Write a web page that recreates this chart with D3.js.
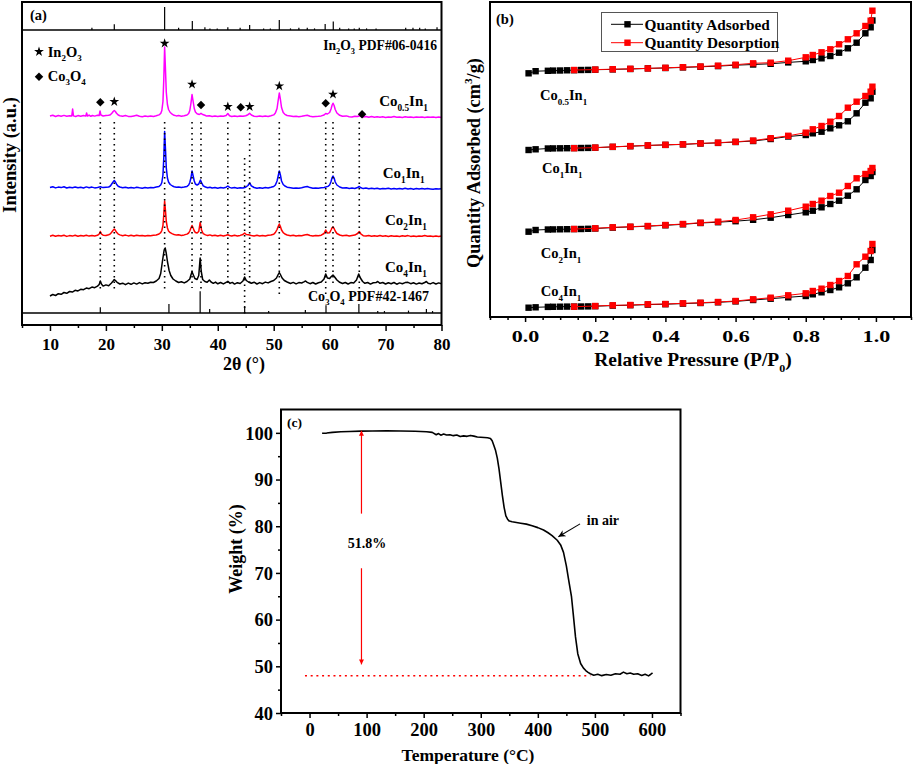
<!DOCTYPE html>
<html><head><meta charset="utf-8">
<script src="https://cdn.jsdelivr.net/npm/d3@7"></script>
<style>
body{margin:0;background:#fff}
svg{display:block}
text{font-family:'Liberation Serif','Times New Roman',serif;font-weight:bold;fill:#000}
</style>
</head><body>
<svg id="c" width="915" height="764"></svg>
<script>
// ---------------- DATA : panel (a) XRD ----------------
const xrdNames = ["Co_{0.5}In_{1}", "Co_{1}In_{1}", "Co_{2}In_{1}", "Co_{4}In_{1}"];
const xrdColors = ["#ff00ff", "#0000ff", "#ff0000", "#000000"];
const xrdOffsets = [195.5, 124, 76.5, 29.5];
const xrdCo05In1 = [[10,1.5],[10.5,2.2],[11,1.0],[11.5,2.0],[12,1.3],[12.5,2.1],[13,1.2],[13.5,1.8],[13.9,1.5],[14.05,8.5],[14.2,1.6],[14.6,1.0],[15,1.9],[15.5,1.2],[16,2.0],[16.4,1.4],[16.55,4.5],[16.7,1.5],[17,2.4],[17.3,1.2],[17.6,2.0],[18,1.4],[18.5,2.2],[18.8,2.0],[18.95,6.5],[19.1,2.5],[19.5,1.5],[20,2.0],[20.5,2.2],[20.8,2.8],[21.1,4.5],[21.3,6.0],[21.5,7.0],[21.7,6.0],[21.9,4.2],[22.2,2.5],[22.5,1.8],[23,1.3],[23.5,2.0],[24,1.1],[24.5,0.9],[25,1.6],[25.5,2.3],[26,1.2],[26.5,0.8],[27,1.4],[27.5,1.0],[28,1.6],[28.5,1.1],[29,1.8],[29.5,2.6],[29.8,4],[30.0,7],[30.2,16],[30.35,38],[30.5,70.5],[30.65,48],[30.8,25],[31.0,13],[31.2,8],[31.5,5],[31.9,3.2],[32.2,2.2],[32.6,1.6],[33,2.0],[33.5,1.3],[34,1.8],[34.5,2.5],[34.8,4],[35.0,7],[35.2,14],[35.4,23],[35.6,16],[35.8,9],[36.0,5.5],[36.3,3.8],[36.7,3.0],[37.0,4.2],[37.3,3.0],[37.7,2.2],[38,1.4],[38.5,1.8],[39,1.1],[39.5,1.6],[40,1.0],[40.5,1.4],[41,1.2],[41.5,2.0],[41.8,4.0],[42.1,1.8],[42.5,1.0],[43,1.5],[43.5,1.0],[44,1.6],[44.5,1.2],[45,1.8],[45.4,2.8],[45.7,4.2],[46,2.5],[46.5,1.3],[47,1.0],[47.5,1.5],[48,0.9],[48.5,1.4],[49,1.1],[49.5,1.8],[50,2.6],[50.3,4.5],[50.6,9],[50.8,17],[51.0,24.5],[51.2,18],[51.4,10],[51.7,5],[52.0,3.2],[52.4,2.0],[53,1.4],[53.5,0.9],[54,1.3],[54.5,0.8],[55,1.2],[55.5,1.8],[56,2.3],[56.5,1.2],[57,0.8],[57.5,1.0],[58,1.2],[58.5,1.6],[59,2.5],[59.3,4.0],[59.6,3.5],[60,5],[60.25,8.5],[60.45,12.5],[60.6,14.3],[60.8,12],[61.0,8],[61.3,4.5],[61.8,2.2],[62.3,1.2],[63,1.6],[63.5,0.8],[64,0.5],[64.5,1.2],[65,1.0],[65.3,1.8],[65.7,0.7],[66,0.4],[66.5,1.0],[67,0.3],[67.5,0.9],[68,0.2],[68.5,0.8],[69,0.3],[69.5,0.7],[70,0.1],[70.5,0.6],[71,0.3],[71.5,0.9],[72,0.2],[72.5,0.6],[73,0.1],[73.5,0.7],[74,0.2],[74.5,0.5],[75,0.0],[75.5,0.6],[76,0.2],[76.5,0.5],[77,-0.1],[77.5,0.4],[78,0.2],[78.5,0.5],[79,-0.1],[79.5,0.4],[80,0.1]];
const xrdCo1In1 = [[10,1.5],[10.5,2.3],[11,1.1],[11.5,1.9],[12,1.4],[12.5,2.2],[13,1.0],[13.5,1.8],[14,1.3],[14.5,2.0],[15,1.2],[15.5,1.7],[16,1.0],[16.5,2.1],[17,1.3],[17.5,1.9],[18,1.1],[18.5,1.6],[19,2.2],[19.5,1.4],[20,1.8],[20.5,2.0],[20.8,3.0],[21.1,5.5],[21.3,7.2],[21.5,8.5],[21.7,7.0],[21.9,4.8],[22.2,2.8],[22.5,2.0],[23,1.2],[23.5,1.8],[24,1.0],[24.5,1.5],[25,0.9],[25.5,1.7],[26,1.2],[26.5,0.8],[27,1.5],[27.5,1.0],[28,1.4],[28.5,1.2],[29,1.9],[29.5,2.6],[29.8,4],[30.0,6.5],[30.2,14],[30.35,31],[30.5,57.5],[30.65,40],[30.8,21],[31.0,11],[31.2,7],[31.5,4.5],[31.9,3],[32.2,2.3],[32.6,1.7],[33,2.0],[33.5,1.4],[34,1.9],[34.5,2.6],[34.8,4],[35.0,6.5],[35.2,11],[35.4,18],[35.6,13],[35.8,8],[36.0,5],[36.3,4],[36.6,5],[36.9,9],[37.1,6.5],[37.4,3.2],[37.8,2.0],[38.2,1.2],[38.6,1.8],[39,1.0],[39.5,1.5],[40,0.8],[40.5,1.4],[41,1.0],[41.5,1.8],[41.8,3.0],[42.1,1.6],[42.5,0.9],[43,1.4],[43.5,0.8],[44,1.3],[44.5,1.0],[45,1.8],[45.4,3.5],[45.7,6.0],[46,3.2],[46.5,1.5],[47,0.8],[47.5,1.3],[48,0.7],[48.5,1.4],[49,1.0],[49.5,1.7],[50,2.5],[50.3,4],[50.6,8],[50.8,13],[51.0,18],[51.2,14],[51.4,8],[51.7,4.5],[52.0,3],[52.4,1.8],[53,1.2],[53.5,0.7],[54,1.1],[54.5,0.8],[55,1.3],[55.5,2.0],[56,2.5],[56.5,1.4],[57,0.7],[57.5,1.1],[58,0.8],[58.5,1.3],[59,1.6],[59.3,2.0],[59.7,2.6],[60,4],[60.25,7.5],[60.45,11.5],[60.6,13],[60.8,11],[61.0,7],[61.3,4],[61.8,2.0],[62.3,1.0],[63,1.3],[63.5,0.6],[64,0.9],[64.5,0.5],[65,1.5],[65.3,2.5],[65.6,1.2],[66,0.4],[66.5,0.9],[67,0.3],[67.5,0.8],[68,0.2],[68.5,0.7],[69,0.1],[69.5,0.6],[70,0.2],[70.5,0.8],[71,0.1],[71.5,0.5],[72,-0.1],[72.5,0.6],[73,0.0],[73.5,0.7],[74,0.1],[74.5,0.4],[75,-0.2],[75.5,0.5],[76,0.0],[76.5,0.6],[77,-0.1],[77.5,0.4],[78,0.1],[78.5,-0.2],[79,0.3],[79.5,-0.1],[80,0.2]];
const xrdCo2In1 = [[10,0.3],[10.5,1.2],[11,0.2],[11.5,1.0],[12,0.5],[12.5,1.3],[13,0.1],[13.5,0.9],[14,0.4],[14.5,1.2],[15,0.3],[15.5,1.0],[16,0.5],[16.5,1.3],[17,0.4],[17.5,1.1],[18,0.6],[18.5,1.2],[18.8,2.5],[19.0,5.0],[19.2,2.5],[19.5,1.3],[20,1.0],[20.5,1.8],[20.8,2.6],[21.1,4.8],[21.3,6.3],[21.5,7.5],[21.7,6.2],[21.9,4.2],[22.2,2.4],[22.5,1.6],[23,0.8],[23.5,1.4],[24,0.6],[24.5,1.2],[25,0.5],[25.5,1.3],[26,0.7],[26.5,1.1],[27,0.4],[27.5,1.0],[28,0.8],[28.5,1.3],[29,1.5],[29.5,2.5],[29.8,3.8],[30.0,6],[30.2,11],[30.35,22],[30.5,35.5],[30.65,26],[30.8,15],[31.0,8.5],[31.2,5.5],[31.5,3.8],[31.9,2.6],[32.2,2.0],[32.6,1.4],[33,1.8],[33.5,1.1],[34,1.6],[34.5,2.4],[34.8,3.5],[35.0,5.5],[35.2,8.5],[35.4,11],[35.6,8.5],[35.8,5.5],[36.0,4],[36.3,3.5],[36.6,5],[36.85,14],[37.1,6.5],[37.4,2.8],[37.8,1.6],[38.2,1.0],[38.6,1.6],[39,0.7],[39.5,1.3],[40,0.5],[40.5,1.2],[41,0.6],[41.5,1.3],[41.8,1.8],[42.1,1.0],[42.5,0.5],[43,1.2],[43.5,0.6],[44,1.1],[44.5,2.0],[44.8,3.5],[45.1,2.0],[45.5,1.8],[46,1.1],[46.5,0.6],[47,1.2],[47.5,0.5],[48,1.0],[48.5,0.6],[49,1.3],[49.5,1.5],[50,2.2],[50.3,4],[50.6,7],[50.8,10],[51.0,12.5],[51.2,10],[51.4,6.5],[51.7,3.8],[52.0,2.5],[52.4,1.5],[53,0.8],[53.5,1.3],[54,0.6],[54.5,1.0],[55,0.8],[55.5,1.5],[56,2.0],[56.5,1.0],[57,0.5],[57.5,1.1],[58,0.7],[58.5,1.3],[59,3.0],[59.3,6.5],[59.6,3.5],[60,3.8],[60.25,6.5],[60.45,8.8],[60.6,9.5],[60.8,8],[61.0,5.5],[61.3,3],[61.8,1.5],[62.3,0.8],[63,1.2],[63.5,0.5],[64,1.0],[64.5,1.4],[65,3.0],[65.3,5.0],[65.6,2.5],[66,0.8],[66.5,0.4],[67,1.0],[67.5,0.3],[68,0.8],[68.5,0.2],[69,0.9],[69.5,0.3],[70,0.7],[70.5,0.1],[71,0.8],[71.5,0.2],[72,0.6],[72.5,0.0],[73,0.7],[73.5,0.2],[74,0.9],[74.5,0.1],[75,0.6],[75.5,0.0],[76,0.5],[76.5,0.2],[77,1.0],[77.5,0.3],[78,0.5],[78.5,0.0],[79,0.6],[79.5,0.1],[80,0.4]];
const xrdCo4In1 = [[10,-12.5],[10.5,-11.0],[11,-12.0],[11.5,-10.2],[12,-10.8],[12.5,-9.0],[13,-9.8],[13.5,-8.0],[14,-8.6],[14.5,-6.8],[15,-7.4],[15.5,-5.8],[16,-6.2],[16.5,-4.6],[17,-5.2],[17.5,-3.6],[18,-4.2],[18.5,-2.6],[18.8,-1.0],[19.0,2.5],[19.2,-0.5],[19.5,-2.6],[20,-1.4],[20.5,-2.2],[21,0.5],[21.3,2.5],[21.5,4.0],[21.7,3.0],[22,1.2],[22.5,-0.5],[23,0.3],[23.5,-1.2],[24,0.4],[24.5,-0.8],[25,0.6],[25.5,-0.6],[26,0.9],[26.5,-0.4],[27,0.8],[27.5,0.2],[28,1.3],[28.5,1.0],[29,2.5],[29.5,5],[29.8,10],[30.1,22],[30.4,33],[30.6,35.5],[30.8,30],[31.0,22],[31.3,13],[31.6,8],[32,4.5],[32.5,2.5],[33,1.0],[33.5,1.8],[34,0.6],[34.5,2.0],[35,4.5],[35.2,8.5],[35.4,11.8],[35.6,9],[35.9,5],[36.3,4],[36.6,8],[36.85,25.5],[37.05,12],[37.3,4],[37.7,2.0],[38.1,1.2],[38.5,3.5],[38.8,1.5],[39.2,0.2],[39.6,1.4],[40,-0.3],[40.5,1.0],[41,-0.4],[41.5,1.2],[41.8,2.2],[42.2,0.1],[42.6,1.1],[43,-0.6],[43.5,0.8],[44,0.0],[44.5,2.5],[44.8,6.5],[45.1,3.0],[45.5,1.5],[46,0.2],[46.5,1.3],[47,-0.5],[47.5,0.9],[48,-0.2],[48.5,1.4],[49,0.6],[49.5,2.0],[50,3.0],[50.5,5.5],[50.8,9],[51,11],[51.2,9],[51.5,5.5],[51.9,3],[52.4,1.5],[53,0.0],[53.5,1.1],[54,-0.4],[54.5,0.9],[55,0.5],[55.4,1.6],[55.7,2.5],[56,1.2],[56.5,-0.2],[57,1.0],[57.5,-0.5],[58,0.8],[58.5,1.5],[59,4.5],[59.3,9.5],[59.6,5.5],[60,5],[60.3,7],[60.6,8.5],[60.9,6.5],[61.3,3.5],[61.8,1.2],[62.3,0.0],[62.8,1.0],[63.3,-0.5],[63.8,0.9],[64.3,0.5],[64.8,3.5],[65.2,9.5],[65.5,5.5],[65.9,2.0],[66.3,0.2],[66.8,1.0],[67.3,-0.6],[67.8,0.7],[68.3,0.9],[68.6,2.0],[69,0.2],[69.5,1.0],[70,-0.5],[70.5,0.8],[71,-0.2],[71.5,1.0],[72,-0.7],[72.5,0.6],[73,-0.3],[73.5,0.9],[74,1.2],[74.5,-0.2],[75,0.7],[75.5,-0.6],[76,0.5],[76.5,-0.3],[77,1.0],[77.3,2.0],[77.6,0.3],[78,-0.4],[78.5,0.9],[79,-0.5],[79.5,0.6],[80,-0.2]];
const xrdSeries = [xrdCo05In1, xrdCo1In1, xrdCo2In1, xrdCo4In1];
// reference sticks [2theta, relative intensity]
const in2o3Ref = [[17.5,10],[21.5,25],[30.5,100],[33.0,10],[35.45,39],[37.7,12],[38.6,7],[39.9,7],[41.8,12],[44.0,10],[45.7,22],[48.2,7],[49.4,7],[51.0,44],[53.0,7],[54.5,10],[56.0,10],[57.3,7],[59.2,26],[60.65,37],[61.8,10],[63.4,7],[64.4,7],[65.3,10],[66.6,7],[68.3,7],[73.6,10],[74.9,10],[76.1,10],[77.1,7],[79.2,12]];
const co3o4Ref = [[19.0,27],[31.27,41],[36.85,100],[38.55,18],[44.81,32],[49.1,9],[55.66,14],[59.35,36],[65.23,41],[68.6,9],[69.8,9],[74.1,11],[77.3,18],[78.4,9]];
// dotted guide lines [2theta, top a.u., bottom a.u.]
const guideLines = [[19.0,191,23],[21.5,191,23],[30.5,191,23],[35.4,191,25],[37.0,191,23],[41.8,191,30],[44.8,155,-4],[45.7,191,30],[51.0,191,18],[59.3,191,15],[60.6,191,30],[65.3,191,15]];
const starMarks = [[21.5,211.3],[30.5,269.7],[35.4,228.7],[41.8,206.3],[45.7,206.3],[51.0,227],[60.6,218.7]];
const diamondMarks = [[19.0,210.7],[37.0,208],[44.1,205.7],[59.3,209.7],[65.8,198.7]];
const xrdMajorTicks = [10,20,30,40,50,60,70,80];
const xrdMinorTicks = [5,15,25,35,45,55,65,75];

// ---------------- DATA : panel (b) isotherms ----------------
const betNames = ["Co_{0.5}In_{1}", "Co_{1}In_{1}", "Co_{2}In_{1}", "Co_{4}In_{1}"];
const betLegend = ["Quantity Adsorbed", "Quantity Desorption"];
const pAds = [0.01,0.03,0.065,0.08,0.10,0.12,0.14,0.16,0.18,0.20,0.25,0.30,0.35,0.40,0.45,0.50,0.55,0.60,0.65,0.70,0.75,0.80,0.82,0.845,0.87,0.895,0.92,0.945,0.97,0.985,0.99];
const pDes = [0.99,0.985,0.97,0.945,0.92,0.895,0.87,0.845,0.82,0.80,0.75,0.70,0.65,0.60,0.55,0.50,0.45,0.40,0.35,0.30,0.25,0.20,0.14];
const adsCo05In1 = [243.7,245.8,246.2,246.4,246.5,246.7,246.8,247.0,247.1,247.3,247.6,248.0,248.6,249.0,249.6,250.2,250.9,251.8,252.5,253.2,254.6,255.7,257.0,258.7,261.0,264.3,268.7,274.3,283.7,289.7,296.5];
const desCo05In1 = [306.3,296.3,291.0,283.7,277.7,272.7,267.7,264.7,262.0,259.7,256.3,254.3,253.7,252.3,251.3,250.5,249.8,249.2,248.6,248.2,247.8,247.4,247.0];
const adsCo1In1 = [167.0,167.7,168.5,168.6,168.7,168.8,168.9,169.0,169.1,169.3,170.1,170.8,171.5,172.1,172.6,173.5,174.1,175.0,176.0,178.0,180.5,182.0,183.7,185.3,188.7,191.7,195.7,203.7,214.3,218.7,225.3];
const desCo1In1 = [230.3,225.3,221.0,215.3,209.3,201.0,195.3,191.0,187.7,184.3,181.2,178.8,176.4,175.2,174.3,173.6,172.7,172.2,171.6,170.9,170.2,169.4,168.8];
const adsCo2In1 = [85.3,87.0,87.5,87.6,87.7,87.8,87.9,88.0,88.2,88.5,89.4,90.1,90.8,91.7,92.7,94.0,94.8,95.8,97.2,99.3,102.0,104.7,106.3,109.7,113.0,116.3,121.3,127.7,137.0,141.0,145.0];
const desCo2In1 = [149.0,146.0,143.0,138.7,131.0,124.3,121.0,116.3,113.0,110.3,106.3,102.7,99.7,97.0,95.3,94.3,93.0,92.0,91.0,90.3,89.7,88.7,88.0];
const adsCo4In1 = [9.3,9.7,10.1,10.2,10.3,10.4,10.4,10.5,10.6,10.8,11.4,11.8,12.4,12.8,13.4,14.0,14.7,15.6,17.0,18.3,19.7,21.0,22.7,24.7,27.0,29.7,33.7,39.7,49.3,57.0,67.0];
const desCo4In1 = [73.0,66.0,60.3,52.7,41.0,36.0,32.0,28.3,26.0,23.7,21.7,19.3,17.7,16.0,15.0,14.3,13.7,13.0,12.7,12.0,11.7,11.0,10.3];
const adsSeries = [adsCo05In1, adsCo1In1, adsCo2In1, adsCo4In1];
const desSeries = [desCo05In1, desCo1In1, desCo2In1, desCo4In1];
const betMajorTicks = [0,0.2,0.4,0.6,0.8,1.0];
const betMinorTicks = [-0.1,-0.05,0.05,0.1,0.15,0.25,0.3,0.35,0.45,0.5,0.55,0.65,0.7,0.75,0.85,0.9,0.95,1.05,1.1];

// ---------------- DATA : panel (c) TGA ----------------
const tgaT = [22,30,40,55,70,90,110,135,160,185,205,215,222,226,230,235,240,246,252,258,264,270,276,282,288,294,300,306,312,317,320,323,326,329,332,335,338,341,344,347,350,355,360,370,380,390,400,410,418,425,434,440,445,450,454,459,462,466,470,475,480,484,488,492,498,505,512,520,528,536,544,550,556,562,568,575,582,588,594,598,601];
const tgaW = [99.9,99.95,100.1,100.25,100.3,100.37,100.4,100.43,100.4,100.35,100.25,100.1,99.6,99.85,99.5,99.75,99.55,99.6,99.4,99.55,99.2,99.35,99.25,99.45,99.3,99.1,99.05,99.0,98.95,98.8,98.3,97.3,96.2,94.6,92.3,89.4,86.5,84.0,82.2,81.5,81.1,80.95,80.85,80.65,80.45,80.1,79.7,79.2,78.6,78.0,77.0,76.0,74.4,71.5,68.5,64.9,61.3,56.3,52.7,50.6,49.6,49.1,48.7,48.4,48.1,48.3,48.0,48.25,48.1,48.4,48.3,48.75,48.4,48.55,48.3,48.4,48.05,48.3,47.95,48.3,48.6];
const tgaMajorX = [0,100,200,300,400,500,600];
const tgaMinorX = [-50,50,150,250,350,450,550,650];
const tgaMajorY = [40,50,60,70,80,90,100];
const tgaMinorY = [45,55,65,75,85,95];
const tgaLoss = "51.8%";
const tgaResidue = 48.0;

// ---------------- helpers ----------------
const svg = d3.select("#c");
function rich(sel, str, size) {
  sel.attr("font-size", size);
  const parts = str.split(/(_\{[^}]*\}|\^\{[^}]*\})/).filter(s => s.length);
  let shift = 0;
  parts.forEach(p => {
    let t = p, d = 0, small = false;
    if (p.startsWith("_{")) { t = p.slice(2, -1); d = 0.32 * size; small = true; }
    else if (p.startsWith("^{")) { t = p.slice(2, -1); d = -0.42 * size; small = true; }
    const ts = sel.append("tspan").text(t).attr("dy", d - shift);
    if (small) ts.attr("font-size", size * 0.62);
    shift = d;
  });
  return sel;
}
function addText(g, x, y, str, size, anchor) {
  const t = g.append("text").attr("x", x).attr("y", y).attr("text-anchor", anchor || "start");
  return rich(t, str, size);
}
function styleAxis(g, labelY, fs) {
  g.select(".domain").remove();
  g.selectAll("line").attr("stroke", "#000").attr("stroke-width", 1.5);
  g.selectAll("text").attr("dy", null).attr("y", labelY).attr("font-size", fs)
    .attr("font-family", "'Liberation Serif','Times New Roman',serif").attr("font-weight", "bold").attr("fill", "#000");
}

// ================= PANEL (a) =================
const ax = d3.scaleLinear().domain([5, 80]).range([22, 441.5]);
const ay = d3.scaleLinear().domain([0, 283]).range([313, 30]);
const ayTop = d3.scaleLinear().domain([0, 100]).range([30, 7]);
const ayBot = d3.scaleLinear().domain([0, 100]).range([313, 291.3]);
const gA = svg.append("g");

gA.selectAll(".stTop").data(in2o3Ref).join("line")
  .attr("x1", d => ax(d[0])).attr("x2", d => ax(d[0]))
  .attr("y1", ayTop(0)).attr("y2", d => ayTop(d[1]))
  .attr("stroke", "#000").attr("stroke-width", 1.2);
gA.selectAll(".stBot").data(co3o4Ref).join("line")
  .attr("x1", d => ax(d[0])).attr("x2", d => ax(d[0]))
  .attr("y1", ayBot(0)).attr("y2", d => ayBot(d[1]))
  .attr("stroke", "#000").attr("stroke-width", 1.2);

xrdSeries.forEach((s, i) => {
  const line = d3.line().x(d => ax(d[0])).y(d => ay(d[1] + xrdOffsets[i]));
  gA.append("path").datum(s).attr("d", line).attr("fill", "none")
    .attr("stroke", xrdColors[i]).attr("stroke-width", 1.5).attr("stroke-linejoin", "round");
});
gA.selectAll(".guide").data(guideLines).join("line")
  .attr("x1", d => ax(d[0])).attr("x2", d => ax(d[0]))
  .attr("y1", d => ay(d[1])).attr("y2", d => ay(d[2]))
  .attr("stroke", "#000").attr("stroke-width", 1.6).attr("stroke-dasharray", "1.6,3.9");

const starSym = d3.symbol().type(d3.symbolStar).size(30);
const diaSym = d3.symbol().type(d3.symbolSquare).size(36);
gA.selectAll(".star").data(starMarks).join("path").attr("d", starSym)
  .attr("transform", d => `translate(${ax(d[0])},${ay(d[1])})`).attr("fill", "#000");
gA.selectAll(".dia").data(diamondMarks).join("path").attr("d", diaSym)
  .attr("transform", d => `translate(${ax(d[0])},${ay(d[1])}) rotate(45)`).attr("fill", "#000");

// legend (a)
gA.append("path").attr("d", starSym).attr("transform", `translate(${ax(8.04)},${ay(261.3)})`).attr("fill", "#000");
gA.append("path").attr("d", diaSym).attr("transform", `translate(${ax(8.04)},${ay(236.3)}) rotate(45)`).attr("fill", "#000");
addText(gA, ax(9.6), ay(256.5), "In_{2}O_{3}", 14.5);
addText(gA, ax(9.6), ay(232.5), "Co_{3}O_{4}", 14.5);
addText(gA, 437, ay(263.5), "In_{2}O_{3} PDF#06-0416", 13.6, "end");
addText(gA, 308, ay(12), "Co_{3}O_{4} PDF#42-1467", 14);
const xrdLabelPos = [[68.85, 207], [69.5, 135.3], [69.9, 88], [69.9, 41.3]];
xrdNames.forEach((n, i) => addText(gA, ax(xrdLabelPos[i][0]), ay(xrdLabelPos[i][1]), n, 15));
addText(gA, 30, 20, "(a)", 14.5);

// axis (a)
const axMinor = gA.append("g").attr("transform", "translate(0,325)")
  .call(d3.axisBottom(ax).tickValues(xrdMinorTicks).tickSize(3).tickFormat(""));
styleAxis(axMinor, 0, 0);
const axMajor = gA.append("g").attr("transform", "translate(0,325)")
  .call(d3.axisBottom(ax).tickValues(xrdMajorTicks).tickSize(6).tickSizeOuter(0).tickFormat(d3.format("d")));
styleAxis(axMajor, 25, 17);
// frame (a)
gA.append("rect").attr("x", 22).attr("y", 2).attr("width", 419.5).attr("height", 323)
  .attr("fill", "none").attr("stroke", "#000").attr("stroke-width", 2);
gA.append("line").attr("x1", 22).attr("x2", 441.5).attr("y1", 30).attr("y2", 30).attr("stroke", "#000").attr("stroke-width", 1.6);
gA.append("line").attr("x1", 22).attr("x2", 441.5).attr("y1", 313).attr("y2", 313).attr("stroke", "#000").attr("stroke-width", 1.6);
addText(gA, 244, 370, "2θ (°)", 18, "middle");
gA.append("text").attr("transform", "translate(15.5,155) rotate(-90)").attr("text-anchor", "middle")
  .attr("font-size", 18.5).text("Intensity (a.u.)");

// ================= PANEL (b) =================
const bx = d3.scaleLinear().domain([-0.1, 1.1]).range([490, 911]);
const by = d3.scaleLinear().domain([0, 315]).range([317, 2]);
const gB = svg.append("g");
const sq = 6.4;
function drawIso(P, V, color) {
  const pts = P.map((p, i) => [p, V[i]]);
  gB.append("path").datum(pts).attr("d", d3.line().x(d => bx(d[0])).y(d => by(d[1])))
    .attr("fill", "none").attr("stroke", color).attr("stroke-width", 1);
  gB.append("g").selectAll("rect").data(pts).join("rect")
    .attr("x", d => bx(d[0]) - sq / 2).attr("y", d => by(d[1]) - sq / 2)
    .attr("width", sq).attr("height", sq).attr("fill", color);
}
adsSeries.forEach(v => drawIso(pAds, v, "#000000"));
desSeries.forEach(v => drawIso(pDes, v, "#ff0000"));
const betLabelPos = [[0.0425, 217], [0.048, 143.7], [0.045, 58.7], [0.045, 21]];
betNames.forEach((n, i) => addText(gB, bx(betLabelPos[i][0]), by(betLabelPos[i][1]), n, 14.5));
addText(gB, 496, 23.5, "(b)", 14.5);
// legend (b)
gB.append("rect").attr("x", 601.5).attr("y", 12.5).attr("width", 176).attr("height", 39)
  .attr("fill", "#fff").attr("stroke", "#555").attr("stroke-width", 1);
[["#000000", 24.3], ["#ff0000", 42.7]].forEach((e, i) => {
  gB.append("line").attr("x1", 611).attr("x2", 643).attr("y1", e[1]).attr("y2", e[1]).attr("stroke", e[0]).attr("stroke-width", 1);
  gB.append("rect").attr("x", 627.5 - sq / 2).attr("y", e[1] - sq / 2).attr("width", sq).attr("height", sq).attr("fill", e[0]);
  addText(gB, 644.5, e[1] + 5.3, betLegend[i], 15.3);
});
const bxMinor = gB.append("g").attr("transform", "translate(0,317)")
  .call(d3.axisBottom(bx).tickValues(betMinorTicks).tickSize(3).tickFormat(""));
styleAxis(bxMinor, 0, 0);
const bxMajor = gB.append("g").attr("transform", "translate(0,317)")
  .call(d3.axisBottom(bx).tickValues(betMajorTicks).tickSize(5).tickSizeOuter(0).tickFormat(d3.format(".1f")));
styleAxis(bxMajor, 24.7, 17);
bxMajor.selectAll("text").attr("transform", "scale(1.3,1)");
gB.append("rect").attr("x", 490).attr("y", 2).attr("width", 421).attr("height", 315)
  .attr("fill", "none").attr("stroke", "#000").attr("stroke-width", 2);
const bt = gB.append("text").attr("text-anchor", "middle").attr("transform", "translate(693,366) scale(1.08,1)");
rich(bt, "Relative Pressure (P/P_{0})", 18);
const byl = gB.append("text").attr("text-anchor", "middle").attr("transform", "translate(480,163) rotate(-90)");
rich(byl, "Quantity Adsorbed (cm^{3}/g)", 18.3);

// ================= PANEL (c) =================
const cx = d3.scaleLinear().domain([-50, 650]).range([281, 680.5]);
const cy = d3.scaleLinear().domain([40, 105]).range([713, 409.5]);
const gC = svg.append("g");
const defs = svg.append("defs");
defs.append("marker").attr("id", "ahRed").attr("viewBox", "0 0 10 10").attr("refX", 10).attr("refY", 5)
  .attr("markerWidth", 5).attr("markerHeight", 9).attr("markerUnits", "userSpaceOnUse").attr("orient", "auto")
  .append("path").attr("d", "M0,0 L10,5 L0,10 Z").attr("fill", "#ff0000");
defs.append("marker").attr("id", "ahBlk").attr("viewBox", "0 0 10 10").attr("refX", 10).attr("refY", 5)
  .attr("markerWidth", 8).attr("markerHeight", 7).attr("markerUnits", "userSpaceOnUse").attr("orient", "auto")
  .append("path").attr("d", "M0,0 L10,5 L0,10 L3,5 Z").attr("fill", "#000");

gC.append("line").attr("x1", cx(-8)).attr("x2", cx(492)).attr("y1", cy(tgaResidue)).attr("y2", cy(tgaResidue))
  .attr("stroke", "#ff0000").attr("stroke-width", 1.5).attr("stroke-dasharray", "2,3.7");
const tgaPts = tgaT.map((t, i) => [t, tgaW[i]]);
gC.append("path").datum(tgaPts).attr("d", d3.line().x(d => cx(d[0])).y(d => cy(d[1])))
  .attr("fill", "none").attr("stroke", "#000").attr("stroke-width", 1.6).attr("stroke-linejoin", "round");
gC.append("line").attr("x1", cx(91)).attr("x2", cx(91)).attr("y1", cy(82.7)).attr("y2", cy(100.45))
  .attr("stroke", "#ff0000").attr("stroke-width", 1.2).attr("marker-end", "url(#ahRed)");
gC.append("line").attr("x1", cx(91)).attr("x2", cx(91)).attr("y1", cy(71)).attr("y2", cy(50.4))
  .attr("stroke", "#ff0000").attr("stroke-width", 1.2).attr("marker-end", "url(#ahRed)");
addText(gC, cx(100.5), cy(75.3), tgaLoss, 14, "middle");
addText(gC, cx(485.8), cy(80.25), "in air", 14);
gC.append("line").attr("x1", cx(474)).attr("y1", cy(80.5)).attr("x2", cx(436)).attr("y2", cy(77.75))
  .attr("stroke", "#000").attr("stroke-width", 1.1).attr("marker-end", "url(#ahBlk)");
addText(gC, 287, 427, "(c)", 13.5);

const cxMinor = gC.append("g").attr("transform", "translate(0,713)")
  .call(d3.axisBottom(cx).tickValues(tgaMinorX).tickSize(3).tickFormat(""));
styleAxis(cxMinor, 0, 0);
const cxMajor = gC.append("g").attr("transform", "translate(0,713)")
  .call(d3.axisBottom(cx).tickValues(tgaMajorX).tickSize(5).tickSizeOuter(0).tickFormat(d3.format("d")));
styleAxis(cxMajor, 23, 18.5);
const cyMinor = gC.append("g").attr("transform", "translate(281,0)")
  .call(d3.axisLeft(cy).tickValues(tgaMinorY).tickSize(3).tickFormat(""));
styleAxis(cyMinor, 0, 0);
const cyMajor = gC.append("g").attr("transform", "translate(281,0)")
  .call(d3.axisLeft(cy).tickValues(tgaMajorY).tickSize(5).tickSizeOuter(0).tickFormat(d3.format("d")));
cyMajor.select(".domain").remove();
cyMajor.selectAll("line").attr("stroke", "#000").attr("stroke-width", 1.5);
cyMajor.selectAll("text").attr("x", -8).attr("dy", "0.34em").attr("font-size", 18.5)
  .attr("font-family", "'Liberation Serif','Times New Roman',serif").attr("font-weight", "bold").attr("fill", "#000");
gC.append("rect").attr("x", 281).attr("y", 409.5).attr("width", 399.5).attr("height", 303.5)
  .attr("fill", "none").attr("stroke", "#000").attr("stroke-width", 2);
addText(gC, 468, 761, "Temperature (°C)", 17.5, "middle");
gC.append("text").attr("transform", "translate(242,549) rotate(-90)").attr("text-anchor", "middle")
  .attr("font-size", 18).text("Weight (%)");
</script>
</body></html>
